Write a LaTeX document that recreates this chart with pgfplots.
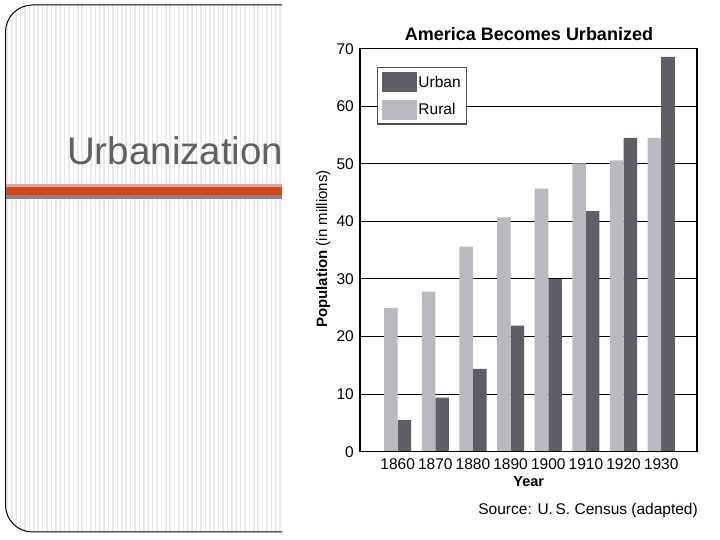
\documentclass[border=0pt]{standalone}
\usepackage{pgfplots}
\pgfplotsset{compat=1.18}
\usepackage{fontspec}
\setmainfont{Liberation Sans}
\definecolor{urban}{HTML}{5E5E66}
\definecolor{rural}{HTML}{B9B9C0}
\definecolor{stripe}{HTML}{EAEAEA}
\definecolor{ttl}{HTML}{606060}
\definecolor{pinkband}{HTML}{E8A494}
\definecolor{orangeband}{HTML}{CF4520}
\definecolor{grayband}{HTML}{8E8484}
\definecolor{legendborder}{HTML}{505050}
\begin{document}
\begin{tikzpicture}[x=1pt,y=1pt]
\useasboundingbox (0,0) rectangle (720,540);
\fill[white] (0,0) rectangle (720,540);
% slide background stripes
\begin{scope}
\clip (0,0) rectangle (282,540);
\clip[rounded corners=27] (400,535) -- (5.5,535) -- (5.5,8) -- (400,8) -- cycle;
\foreach \i in {0,...,63} \fill[stripe] ({6.5+\i*4.4},0) rectangle ++(1.6,540);
\end{scope}
\draw[line width=1pt, rounded corners=27] (282,535) -- (5.5,535) -- (5.5,8) -- (282,8);
% bands
\fill[pinkband] (5.5,356) rectangle (282,353);
\fill[orangeband] (5.5,353) rectangle (282,345);
\fill[grayband] (5.5,345) rectangle (282,341);
\node[anchor=base west, text=ttl, font=\fontsize{38.5}{40}\selectfont, inner sep=0pt] at (67,375) {Urbanization};
% chart
\begin{axis}[
  at={(360pt,88.3pt)}, anchor=south west, scale only axis,
  width=337pt, height=403pt,
  xmin=-1, xmax=7.95, ymin=0, ymax=70,
  xtick={0,1,2,3,4,5,6,7},
  xticklabels={1860,1870,1880,1890,1900,1910,1920,1930},
  ytick={0,10,20,30,40,50,60,70},
  ymajorgrids, grid style={black, line width=1pt},
  axis line style={black, line width=1.3pt},
  major tick length=0pt,
  tick label style={font=\fontsize{15.5}{15.5}\selectfont, inner sep=0pt},
  /pgf/number format/assume math mode=true,
  yticklabel style={xshift=-6pt},
  xticklabel style={yshift=-7pt},
  legend style={at={(axis description cs:0.0496,0.9546)}, anchor=north west,
    draw=legendborder, line width=1.5pt, fill=white, inner sep=4.5pt,
    row sep=7.5pt, font=\fontsize{15.5}{15.5}\selectfont, nodes={inner sep=1.5pt}},
  legend cell align=left,
  legend image code/.code={\fill[#1] (0pt,-10pt) rectangle (35pt,10pt);},
]
\addplot[ybar, bar width=0.36, bar shift=0.18, fill=urban, draw=none]
  coordinates {(0,5.5) (1,9.4) (2,14.4) (3,21.9) (4,30.0) (5,41.8) (6,54.5) (7,68.6)};
\addlegendentry{Urban}
\addplot[ybar, bar width=0.36, bar shift=-0.18, fill=rural, draw=none]
  coordinates {(0,25.0) (1,27.8) (2,35.6) (3,40.7) (4,45.7) (5,50.1) (6,50.6) (7,54.5)};
\addlegendentry{Rural}
\draw[black, line width=2pt] (rel axis cs:0,0) -- (rel axis cs:1,0);
\end{axis}
\node[anchor=base, font=\bfseries\fontsize{18}{18}\selectfont, inner sep=0pt] at (529,499.3) {America Becomes Urbanized};
\node[anchor=base, font=\bfseries\fontsize{14.5}{14.5}\selectfont, inner sep=0pt] at (528.8,53) {Year};
\node[anchor=base east, font=\fontsize{15.5}{15.5}\selectfont, inner sep=0pt] at (698,25) {Source: U.\,S. Census (adapted)};
\node[anchor=base, rotate=90, font=\fontsize{15}{15}\selectfont, inner sep=0pt] at (327,291) {\textbf{Population} (in millions)};
\end{tikzpicture}
\end{document}
